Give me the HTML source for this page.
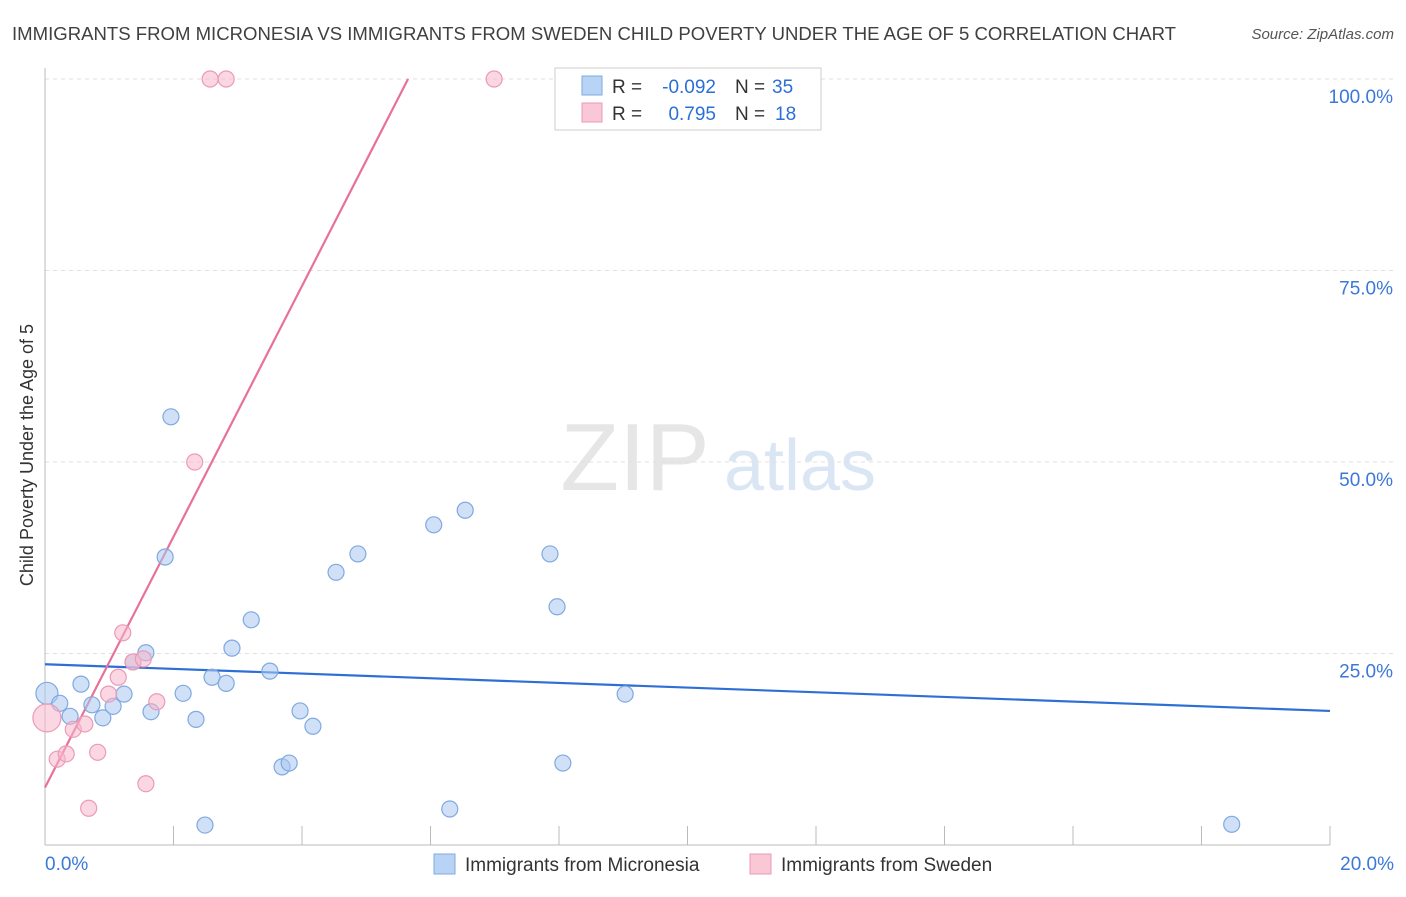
<!DOCTYPE html>
<html><head><meta charset="utf-8"><style>
body{margin:0;background:#fff;font-family:"Liberation Sans",sans-serif}
svg text{font-family:"Liberation Sans",sans-serif}
</style></head><body>
<svg id="chart" width="1406" height="892" viewBox="0 0 1406 892" xmlns="http://www.w3.org/2000/svg">
<text x="12" y="40" font-size="18.5" fill="#404040" textLength="1164" lengthAdjust="spacingAndGlyphs">IMMIGRANTS FROM MICRONESIA VS IMMIGRANTS FROM SWEDEN CHILD POVERTY UNDER THE AGE OF 5 CORRELATION CHART</text>
<text x="1394" y="39" font-size="15" fill="#555" font-style="italic" text-anchor="end">Source: ZipAtlas.com</text>
<g>
<text x="635" y="490" font-size="96" fill="#e6e6e6" font-family="Liberation Serif" text-anchor="middle">ZIP</text>
<text x="800" y="490" font-size="72" fill="#dbe6f5" text-anchor="middle">atlas</text></g>
<g id="grid"></g>
<g id="axes"></g>
<g id="lines"></g>
<g id="points"></g>
<text transform="translate(33,455) rotate(-90)" font-size="18" fill="#333" text-anchor="middle">Child Poverty Under the Age of 5</text>
<g>
<rect x="555" y="68" width="266" height="62" fill="#fff" stroke="#ccc"/>
<rect x="582" y="76" width="20" height="19" fill="#b9d3f5" stroke="#7fa9e0"/>
<rect x="582" y="103" width="20" height="19" fill="#f9c7d6" stroke="#ec9ab5"/>
<text x="612" y="93" font-size="19" fill="#333">R =</text>
<text x="716" y="93" font-size="19" fill="#2b6fd6" text-anchor="end">-0.092</text>
<text x="735" y="93" font-size="19" fill="#333">N =</text>
<text x="772" y="93" font-size="19" fill="#2b6fd6">35</text>
<text x="612" y="120" font-size="19" fill="#333">R =</text>
<text x="716" y="120" font-size="19" fill="#2b6fd6" text-anchor="end">0.795</text>
<text x="735" y="120" font-size="19" fill="#333">N =</text>
<text x="775" y="120" font-size="19" fill="#2b6fd6">18</text>
</g>
<g>
<rect x="434" y="854" width="21" height="20" fill="#b9d3f5" stroke="#7fa9e0"/>
<text x="465" y="871" font-size="19" fill="#333">Immigrants from Micronesia</text>
<rect x="750" y="854" width="21" height="20" fill="#f9c7d6" stroke="#ec9ab5"/>
<text x="781" y="871" font-size="19" fill="#333">Immigrants from Sweden</text>
</g>
</svg>
<script>
const blueX=[0.03,0.23,0.39,0.56,0.73,0.90,1.06,1.23,1.37,1.57,1.65,1.96,1.87,2.15,2.35,2.49,2.60,2.82,2.91,3.21,3.50,3.69,3.80,3.97,4.17,4.53,4.87,6.05,6.30,6.54,7.86,7.97,8.06,9.03,18.47];
const blueY=[19.8,18.5,16.8,21.0,18.3,16.6,18.1,19.7,23.9,25.1,17.4,55.9,37.6,19.8,16.4,2.6,21.9,21.1,25.7,29.4,22.7,10.2,10.7,17.5,15.5,35.6,38.0,41.8,4.7,43.7,38.0,31.1,10.7,19.7,2.7];
const pinkX=[0.03,0.19,0.33,0.44,0.62,0.68,0.82,0.99,1.14,1.21,1.37,1.53,1.57,1.74,2.33,2.57,2.82,6.99];
const pinkY=[16.6,11.2,11.9,15.1,15.8,4.8,12.1,19.7,21.9,27.7,23.9,24.3,8.0,18.7,50,100,100,100];
const blueLine=[23.6,17.5];
const pinkLine=[7.5,16.37];
const yTicks=[25,50,75,100];
const xTickLabels=["0.0%","20.0%"];
const NS="http://www.w3.org/2000/svg";
const X=v=>45+v*64.25, Y=v=>845-v*7.66;
function mk(p,t,a){const e=document.createElementNS(NS,t);for(const k in a)e.setAttribute(k,a[k]);p.appendChild(e);return e;}
const grid=document.getElementById('grid'),axes=document.getElementById('axes');
yTicks.forEach(t=>{const l=mk(grid,'line',{x1:45,x2:1394,y1:Y(t),y2:Y(t),stroke:'#e0e0e0','stroke-dasharray':'4,4'});


const tx=mk(axes,'text',{x:1393,y:Y(t)+24,'font-size':19,fill:'#3b78d8','text-anchor':'end'});tx.textContent=t.toFixed(1)+'%';

});
mk(axes,'line',{x1:45,x2:45,y1:68,y2:845,stroke:'#bbb'});
mk(axes,'line',{x1:45,x2:1330,y1:845,y2:845,stroke:'#bbb'});
for(let i=0;i<=10;i++){mk(axes,'line',{x1:X(i*2),x2:X(i*2),y1:826,y2:845,stroke:'#bbb'});}
[[0,'start',45],[20,'end',1394]].forEach((d,i)=>{const t=mk(axes,'text',{x:d[2],y:870,'font-size':19,fill:'#3b78d8','text-anchor':d[1]});t.textContent=xTickLabels[i];

});
const lines=document.getElementById('lines');
const bl=mk(lines,'line',{x1:X(0),y1:Y(blueLine[0]),x2:X(20),y2:Y(blueLine[1]),stroke:'#2e6fd6','stroke-width':2.2});


const xe=(100-pinkLine[0])/pinkLine[1];
const pl=mk(lines,'line',{x1:X(0),y1:Y(pinkLine[0]),x2:X(xe),y2:Y(100),stroke:'#e8719a','stroke-width':2.2});


const pts=document.getElementById('points');
blueX.forEach((x,i)=>{const c=mk(pts,'circle',{cx:X(x),cy:Y(blueY[i]),r:i==0?11:8,fill:'rgba(170,200,240,0.55)',stroke:'#7fa9e0','stroke-width':1.2});

});
pinkX.forEach((x,i)=>{const c=mk(pts,'circle',{cx:X(x),cy:Y(pinkY[i]),r:i==0?14:8,fill:'rgba(246,182,204,0.55)',stroke:'#ec9ab5','stroke-width':1.2});

});
</script>
</body></html>
